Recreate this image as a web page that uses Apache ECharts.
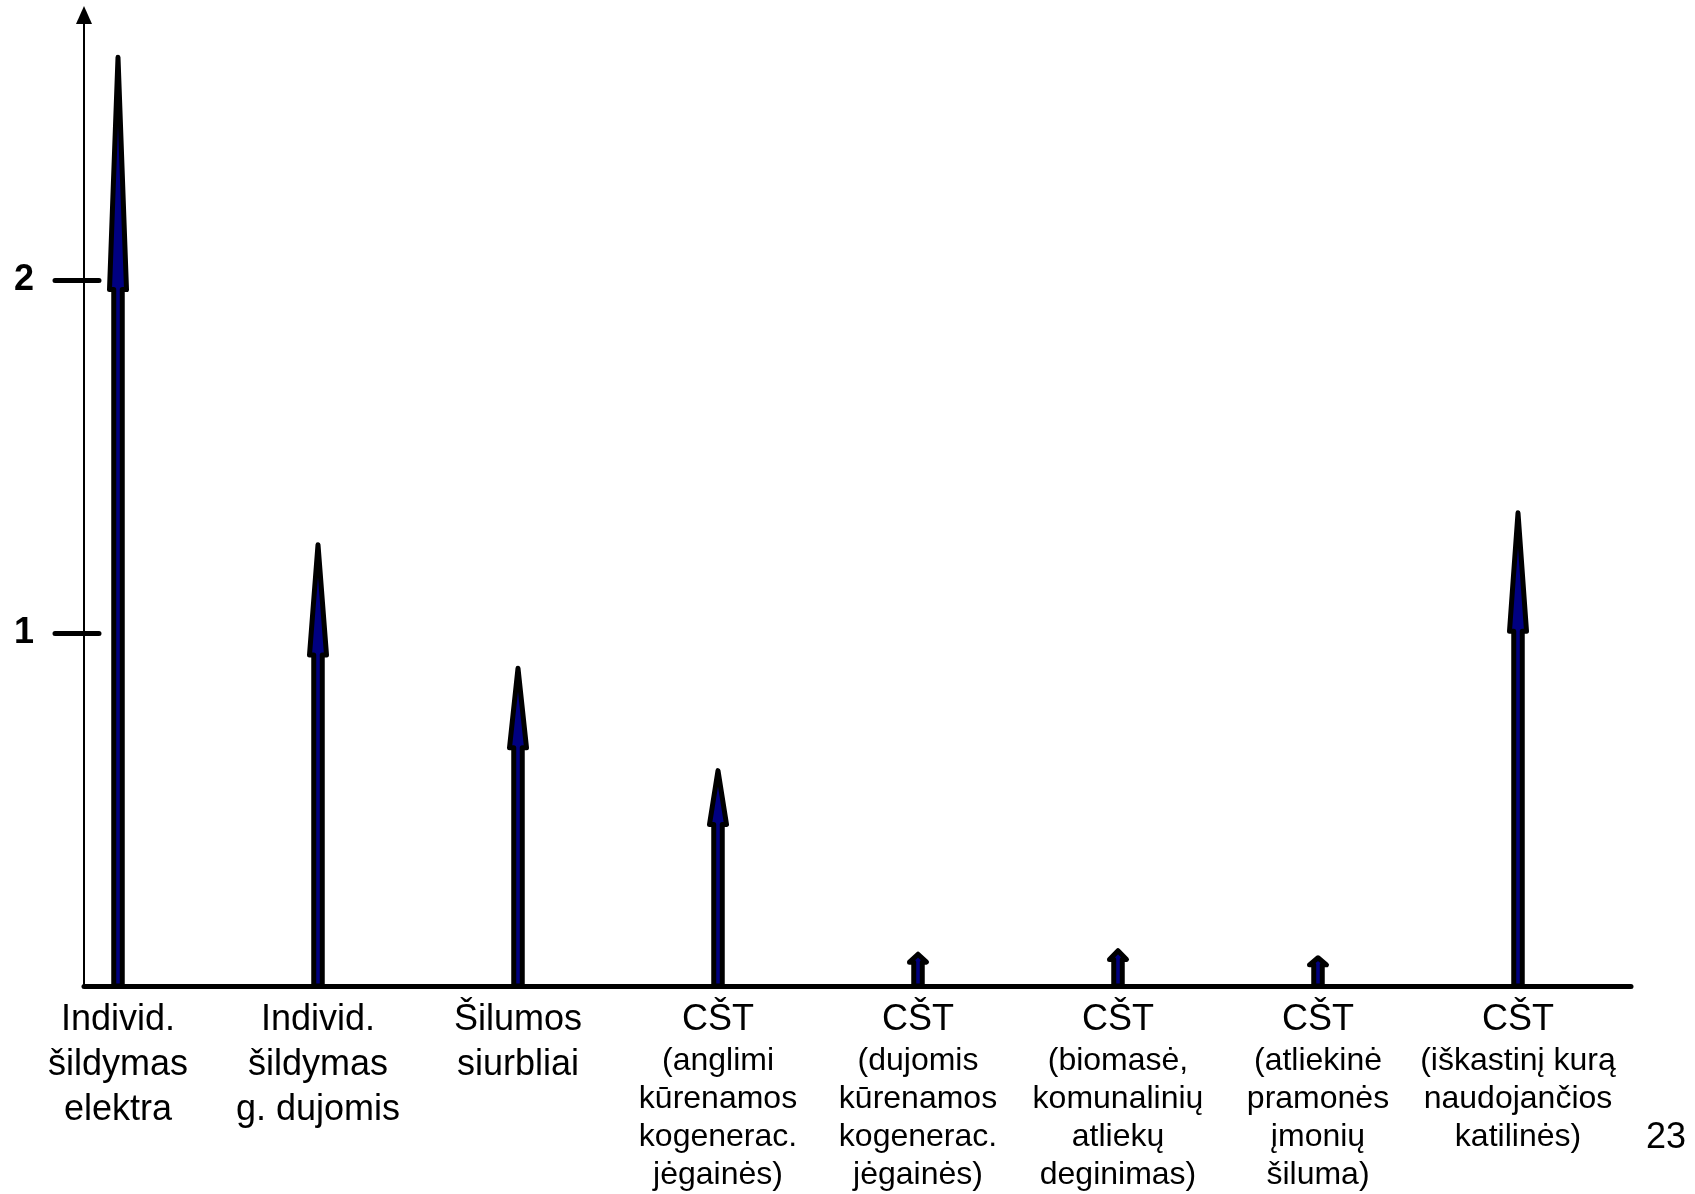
<!DOCTYPE html>
<html>
<head>
<meta charset="utf-8">
<script src="https://cdn.jsdelivr.net/npm/echarts@6/dist/echarts.min.js"></script>
<style>
html,body{margin:0;padding:0;background:#fff;}
#c{width:1695px;height:1194px;}
</style>
</head>
<body>
<div id="c"></div>
<script>
// ---- data ----
const categoryTitles = [
  'Individ.\nšildymas\nelektra',
  'Individ.\nšildymas\ng. dujomis',
  'Šilumos\nsiurbliai',
  'CŠT',
  'CŠT',
  'CŠT',
  'CŠT',
  'CŠT'
];
const categoryNotes = [
  '',
  '',
  '',
  '(anglimi\nkūrenamos\nkogenerac.\njėgainės)',
  '(dujomis\nkūrenamos\nkogenerac.\njėgainės)',
  '(biomasė,\nkomunalinių\natliekų\ndeginimas)',
  '(atliekinė\npramonės\nįmonių\nšiluma)',
  '(iškastinį kurą\nnaudojančios\nkatilinės)'
];
const values = [2.63, 1.25, 0.90, 0.61, 0.09, 0.10, 0.08, 1.34];
const yTickValues = [1, 2];
const pageNumber = '23';

// ---- chart ----
const FONT = '"Liberation Sans", Arial, Helvetica, sans-serif';
const Y_MAX = 2.75;
const categories = categoryTitles.map((t, i) =>
  (t + ' ' + categoryNotes[i]).replace(/\n/g, ' ').trim());

const chart = echarts.init(document.getElementById('c'), null, {renderer: 'canvas'});

const option = {
  animation: false,
  backgroundColor: '#fff',
  grid: [
    {left: 84, right: 64, top: 15, bottom: 208},
    {left: 18, right: 77, top: 15, bottom: 208}
  ],
  xAxis: [
    {
      gridIndex: 0, type: 'value', min: 0, max: 1,
      axisLine: {show: true, lineStyle: {color: '#000', width: 5, cap: 'round'}},
      axisTick: {show: false}, axisLabel: {show: false}, splitLine: {show: false}
    },
    {
      gridIndex: 1, type: 'category', data: categories, boundaryGap: true,
      axisLine: {show: false}, axisTick: {show: false}, splitLine: {show: false},
      axisLabel: {
        interval: 0,
        margin: 11.5,
        color: '#000',
        align: 'center',
        verticalAlign: 'top',
        formatter: function (value, index) {
          const big = categoryTitles[index].split('\n').map(l => '{b|' + l + '}');
          const small = categoryNotes[index]
            ? categoryNotes[index].split('\n').map(l => '{s|' + l + '}') : [];
          return big.concat(small).join('\n');
        },
        rich: {
          b: {fontSize: 36, lineHeight: 45, fontFamily: FONT, color: '#000'},
          s: {fontSize: 32, lineHeight: 38, fontFamily: FONT, color: '#000'}
        }
      }
    }
  ],
  yAxis: [
    {
      gridIndex: 0, type: 'value', position: 'left', min: 0, max: Y_MAX,
      axisLine: {
        show: true, symbol: ['none', 'triangle'], symbolSize: [16, 18],
        lineStyle: {color: '#000', width: 2}
      },
      axisTick: {show: false}, axisLabel: {show: false}, splitLine: {show: false}
    },
    {
      gridIndex: 0, type: 'value', position: 'left', min: 0, max: Y_MAX, offset: -15,
      axisLine: {show: false},
      axisTick: {
        show: true, inside: false, length: 44, customValues: yTickValues,
        lineStyle: {color: '#000', width: 5, cap: 'round'}
      },
      axisLabel: {
        show: true, customValues: yTickValues, margin: 65,
        fontSize: 36, fontWeight: 'bold', fontFamily: FONT, color: '#000'
      },
      splitLine: {show: false}
    },
    {
      gridIndex: 1, type: 'value', position: 'left', min: 0, max: Y_MAX, show: false
    }
  ],
  graphic: [
    {
      type: 'text', x: 1666, y: 1138,
      style: {
        text: pageNumber, fontSize: 36, fontFamily: FONT, fill: '#000',
        align: 'center', verticalAlign: 'middle'
      }
    }
  ],
  series: [
    {
      type: 'custom',
      xAxisIndex: 1,
      yAxisIndex: 2,
      clip: false,
      z: 3,
      data: values.map((v, i) => [i, v]),
      renderItem: function (params, api) {
        const base = api.coord([api.value(0), 0]);
        const tip = api.coord([api.value(0), api.value(1)]);
        const cx = base[0], y0 = base[1], yt = tip[1];
        const len = y0 - yt;
        const yh = yt + len * 0.25;
        const sw = 4.25, hw = 8.5;
        const pts = [
          [cx - sw, y0], [cx - sw, yh], [cx - hw, yh], [cx, yt],
          [cx + hw, yh], [cx + sw, yh], [cx + sw, y0]
        ];
        return {
          type: 'polygon',
          shape: {points: pts},
          style: {fill: '#000080', stroke: '#000', lineWidth: 5, lineJoin: 'round'}
        };
      }
    }
  ]
};
chart.setOption(option);
</script>
</body>
</html>
